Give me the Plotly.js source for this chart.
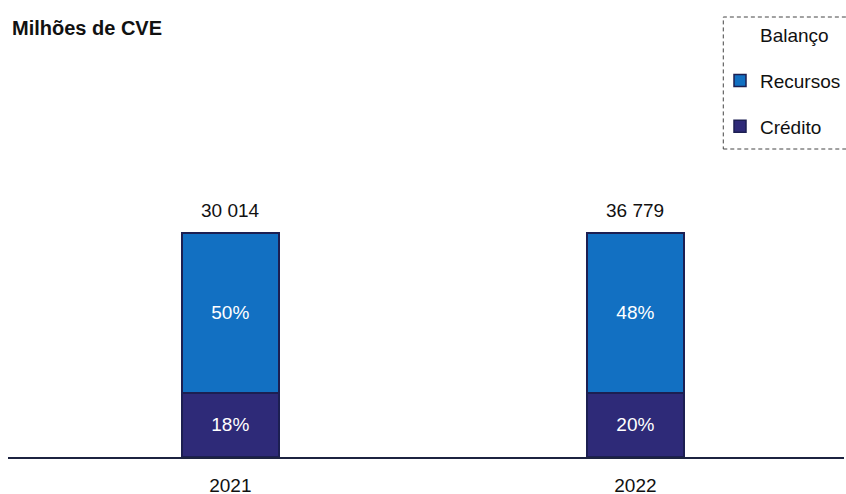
<!DOCTYPE html>
<html>
<head>
<meta charset="utf-8">
<script src="https://cdn.plot.ly/plotly-3.0.1.min.js"></script>
<style>html,body{margin:0;padding:0;background:#fff;}#chart{width:846px;height:494px;}</style>
</head>
<body>
<div id="chart"></div>
<script>
// Data
var years = ['2021', '2022'];
var totals = ['30 014', '36 779'];
// segment heights as drawn (share of bar height, %)
var creditHeight = [28.6, 28.6];
var resourcesHeight = [71.4, 71.4];
// labels printed on segments
var creditLabels = ['18%', '20%'];
var resourcesLabels = ['50%', '48%'];
var barTop = [100, 100];
var legendTitle = 'Balanço';

var FONT = 'Liberation Sans, Arial, sans-serif';
var BLUE = '#1270c2';
var NAVY = '#2e2a78';
var EDGE = '#1c1f52';

var traces = [
  {
    type: 'scatter', mode: 'markers', name: legendTitle, x: [null], y: [null],
    marker: {opacity: 0, color: 'rgba(0,0,0,0)'}, legendgroup: 't', legendrank: 0,
    hoverinfo: 'skip'
  },
  {
    type: 'bar', name: 'Crédito', x: years, y: creditHeight,
    text: creditLabels, textposition: 'inside', insidetextanchor: 'middle',
    textangle: 0, textfont: {color: '#ffffff', size: 19, family: FONT},
    marker: {color: NAVY, line: {color: EDGE, width: 1.5}},
    width: 0.24, legendgroup: 'c', legendrank: 2, hoverinfo: 'skip'
  },
  {
    type: 'bar', name: 'Recursos', x: years, y: resourcesHeight,
    text: resourcesLabels, textposition: 'inside', insidetextanchor: 'middle',
    textangle: 0, textfont: {color: '#ffffff', size: 19, family: FONT},
    marker: {color: BLUE, line: {color: EDGE, width: 1.5}},
    width: 0.24, legendgroup: 'r', legendrank: 1, hoverinfo: 'skip'
  }
];

// total labels above bars (category index positions on the category axis)
var annotations = years.map(function (yr, i) {
  return {
    x: i, y: barTop[i], xref: 'x', yref: 'y', text: totals[i],
    showarrow: false, yanchor: 'bottom', yshift: 10,
    font: {size: 19, family: FONT, color: '#111111'}
  };
});

var layout = {
  width: 846, height: 494,
  margin: {l: 8, r: 0, t: 10, b: 37},
  paper_bgcolor: '#ffffff', plot_bgcolor: '#ffffff',
  barmode: 'stack',
  title: {
    text: '<b>Milhões de CVE</b>', x: 12 / 846, xanchor: 'left', xref: 'container',
    y: 1 - 28 / 494, yanchor: 'middle', yref: 'container',
    font: {size: 20, family: FONT, color: '#111111'}
  },
  xaxis: {
    type: 'category', range: [-0.549, 1.515],
    showline: true, linecolor: '#1c2340', linewidth: 2,
    showgrid: false, zeroline: false, ticks: '', ticklabelstandoff: 10,
    tickfont: {size: 19, family: FONT, color: '#111111'}, fixedrange: true
  },
  yaxis: {
    range: [0, 100 * 447 / 224], visible: false, showgrid: false, zeroline: false, fixedrange: true
  },
  showlegend: true,
  legend: {
    x: (722 - 8) / 838, xanchor: 'left', y: 1 - 6 / 447, yanchor: 'top',
    bgcolor: 'rgba(0,0,0,0)', borderwidth: 0,
    font: {size: 19, family: FONT, color: '#111111'},
    tracegroupgap: 18, traceorder: 'grouped'
  },
  shapes: [{
    type: 'rect', xref: 'paper', yref: 'paper',
    x0: (725 - 8) / 838, x1: 1.03, y0: (457 - 149) / 447, y1: (457 - 17) / 447,
    line: {color: '#444444', width: 1, dash: '4px,3px'}, fillcolor: 'rgba(0,0,0,0)', layer: 'below'
  }],
  annotations: annotations
};

Plotly.newPlot('chart', traces, layout, {displayModeBar: false, staticPlot: true});
</script>
</body>
</html>
